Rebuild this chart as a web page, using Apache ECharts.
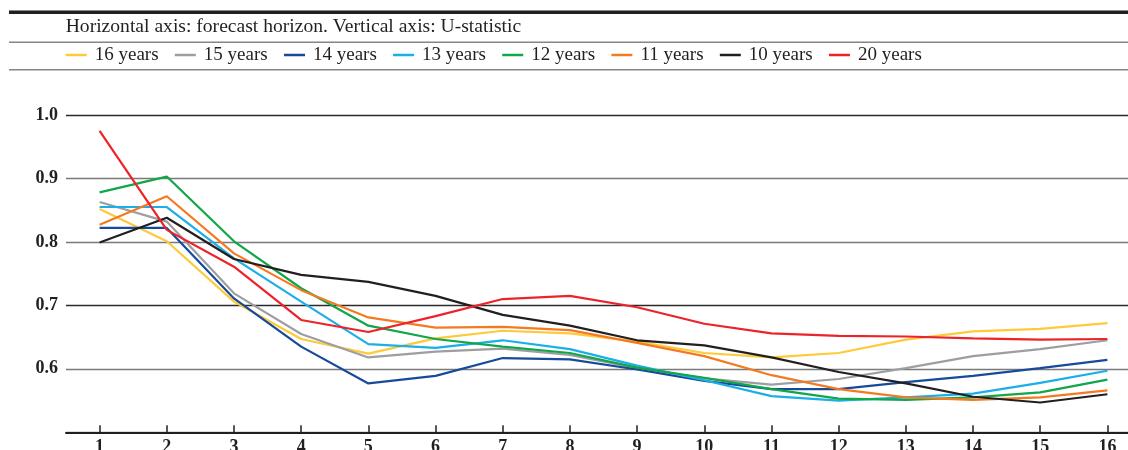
<!DOCTYPE html>
<html>
<head>
<meta charset="utf-8">
<script src="https://cdn.jsdelivr.net/npm/echarts@6/dist/echarts.min.js"></script>
<style>
html,body{margin:0;padding:0;background:#fff;}
#chart{width:1128px;height:450px;}
</style>
</head>
<body>
<div id="chart"></div>
<script>
const horizons = ['1','2','3','4','5','6','7','8','9','10','11','12','13','14','15','16'];
const yTickLabels = ['0.5','0.6','0.7','0.8','0.9','1.0'];
const seriesNames = ['16 years','15 years','14 years','13 years','12 years','11 years','10 years','20 years'];
const seriesColors = ['#fec93a','#9d9ea2','#174a9a','#1aafe6','#10a64a','#f47a22','#231f20','#ec2329'];

const y16 = [0.852,0.801,0.706,0.647,0.624,0.648,0.660,0.656,0.643,0.625,0.618,0.625,0.646,0.659,0.663,0.672];
const y15 = [0.863,0.832,0.719,0.655,0.618,0.627,0.632,0.622,0.601,0.585,0.575,0.584,0.601,0.620,0.631,0.645];
const y14 = [0.822,0.822,0.711,0.635,0.577,0.589,0.617,0.615,0.599,0.581,0.568,0.568,0.579,0.589,0.601,0.614];
const y13 = [0.855,0.855,0.774,0.706,0.639,0.633,0.645,0.631,0.605,0.582,0.557,0.550,0.555,0.561,0.578,0.597];
const y12 = [0.878,0.903,0.801,0.727,0.668,0.647,0.635,0.625,0.602,0.586,0.568,0.553,0.551,0.555,0.563,0.583];
const y11 = [0.827,0.872,0.782,0.724,0.681,0.665,0.666,0.661,0.641,0.620,0.590,0.568,0.555,0.551,0.555,0.566];
const y10 = [0.799,0.838,0.773,0.748,0.737,0.715,0.685,0.668,0.645,0.637,0.618,0.595,0.577,0.556,0.547,0.560];
const y20 = [0.975,0.819,0.761,0.677,0.658,0.683,0.710,0.715,0.697,0.671,0.656,0.652,0.651,0.648,0.646,0.647];

const allValues = [y16,y15,y14,y13,y12,y11,y10,y20];

const serif = '"Liberation Serif","DejaVu Serif",serif';

const chart = echarts.init(document.getElementById('chart'), null, {renderer:'canvas'});

const series = seriesNames.map((name,i)=>({
  name: name,
  type: 'line',
  data: allValues[i],
  symbol: 'none',
  lineStyle: {color: seriesColors[i], width: 2.2},
  itemStyle: {color: seriesColors[i]},
  z: 2 + i
}));

chart.setOption({
  animation: false,
  backgroundColor: '#fff',
  graphic: [
    {type:'rect', shape:{x:9, y:10, width:1119, height:1}, style:{fill:'#8a8a8a'}},
    {type:'rect', shape:{x:9, y:11, width:1119, height:3}, style:{fill:'#231f20'}},
    {type:'rect', shape:{x:9, y:41.5, width:1119, height:1.6}, style:{fill:'#858585'}},
    {type:'rect', shape:{x:9, y:69, width:1119, height:1.6}, style:{fill:'#858585'}},
    {type:'text', x:65.7, y:26.5, style:{text:'Horizontal axis: forecast horizon. Vertical axis: U-statistic', font:'19.6px ' + serif, fill:'#231f20', verticalAlign:'middle'}}
  ],
  legend: {
    left: 65.7,
    top: 45.5,
    padding: 0,
    icon: 'rect',
    itemWidth: 21,
    itemHeight: 2.5,
    itemGap: 16.3,
    data: seriesNames,
    textStyle: {fontFamily: serif, fontSize: 19, color: '#231f20', lineHeight: 19, padding: [0,0,0,3]}
  },
  grid: {left: 66, right: -13, top: 115, bottom: 17.7, containLabel: false, outerBoundsMode: 'none'},
  xAxis: {
    type: 'category',
    data: horizons,
    boundaryGap: true,
    axisLine: {show: true, lineStyle: {color: '#231f20', width: 2}},
    axisTick: {show: true, inside: true, length: 7, alignWithLabel: true, lineStyle: {color: '#231f20', width: 1.5}},
    axisLabel: {fontFamily: serif, fontWeight: 'bold', fontSize: 18, color: '#231f20', margin: 6},
    splitLine: {show: false}
  },
  yAxis: {
    type: 'value',
    min: 0.5,
    max: 1.0,
    interval: 0.1,
    axisLine: {show: false},
    axisTick: {show: false},
    axisLabel: {
      fontFamily: serif, fontWeight: 'bold', fontSize: 18, color: '#231f20', margin: 8,
      formatter: function(v){ return v < 0.55 ? '' : v.toFixed(1); }
    },
    splitLine: {show: true, lineStyle: {color: ['#777','#7a7a7a','#2a2a2a','#7a7a7a','#7a7a7a','#2a2a2a'], width: 1.3}}
  },
  series: series
});
</script>
</body>
</html>
